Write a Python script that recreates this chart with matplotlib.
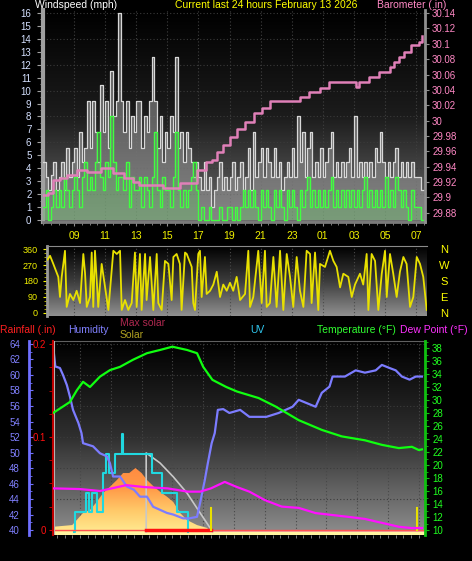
import numpy as np
import matplotlib
matplotlib.use("Agg")
import matplotlib.pyplot as plt
from matplotlib.colors import LinearSegmentedColormap
from matplotlib.ticker import MultipleLocator

plt.rcParams['font.family'] = ['Liberation Sans', 'DejaVu Sans']

W, H = 472, 561

# ---------------- data ----------------
hour_ticks = [9, 11, 13, 15, 17, 19, 21, 23, 25, 27, 29, 31]
hour_labels = ['09', '11', '13', '15', '17', '19', '21', '23', '01', '03', '05', '07']

# wind, 10-minute samples starting 07:00
wind_start_hour = 7.0
wind_step_hours = 1 / 6
wind_gust_mph = [
    4.5, 3.3, 2.3, 3.5, 4.5, 2.3,   # 07
    3.3, 4.5, 2.3, 5.6, 3.3, 4.5,   # 08
    5.6, 3.3, 6.8, 4.5, 5.6, 9.2,   # 09
    5.6, 9.2, 6.8, 4.5, 10.4, 6.8,  # 10
    9.2, 5.6, 11.5, 8.0, 9.2, 16.0, # 11
    9.2, 6.8, 9.2, 5.6, 8.0, 6.8,   # 12
    9.2, 9.2, 5.6, 8.0, 6.8, 9.2,   # 13
    12.6, 9.2, 5.6, 8.0, 4.5, 6.8,  # 14
    5.6, 8.0, 6.8, 12.6, 5.6, 6.8,  # 15
    4.5, 6.8, 5.6, 4.5, 3.3, 4.5,   # 16
    3.3, 2.3, 4.5, 2.3, 3.3, 1.0,   # 17
    2.3, 3.3, 4.5, 2.3, 3.3, 2.3,   # 18
    3.3, 4.5, 2.3, 3.3, 4.5, 2.3,   # 19
    3.3, 5.6, 2.3, 6.8, 3.3, 4.5,   # 20
    5.6, 3.3, 5.6, 4.5, 3.3, 5.6,   # 21
    3.3, 4.5, 2.3, 3.3, 4.5, 3.3,   # 22
    5.6, 3.3, 8.0, 4.5, 6.8, 3.3,   # 23
    5.6, 6.8, 3.3, 4.5, 3.3, 5.6,   # 00
    3.3, 4.5, 5.6, 6.8, 3.3, 4.5,   # 01
    3.3, 4.5, 3.3, 4.5, 5.6, 3.3,   # 02
    8.0, 3.3, 4.5, 3.3, 4.5, 3.3,   # 03
    4.5, 3.3, 5.6, 4.5, 6.8, 4.5,   # 04
    3.3, 4.5, 3.3, 4.5, 5.6, 3.3,   # 05
    4.5, 3.3, 4.5, 3.3, 4.5, 3.3,   # 06
    3.3, 3.3, 2.3,                  # 07
]
wind_speed_mph = [
    1.0, 2.3, 0.0, 1.0, 2.3, 1.0,   # 07
    2.3, 1.0, 3.3, 2.3, 1.0, 2.3,   # 08
    3.3, 2.3, 1.0, 3.3, 4.5, 2.3,   # 09
    3.3, 2.3, 4.5, 6.8, 3.3, 2.3,   # 10
    4.5, 3.3, 8.0, 4.5, 2.3, 3.3,   # 11
    3.3, 2.3, 4.5, 1.0, 3.3, 2.3,   # 12
    2.3, 3.3, 1.0, 3.3, 2.3, 1.0,   # 13
    3.3, 6.8, 2.3, 1.0, 3.3, 2.3,   # 14
    2.3, 1.0, 3.3, 6.8, 2.3, 1.0,   # 15
    2.3, 1.0, 2.3, 3.3, 4.5, 2.3,   # 16
    0.0, 1.0, 0.0, 0.0, 1.0, 0.0,   # 17
    0.0, 0.0, 1.0, 0.0, 0.0, 1.0,   # 18
    1.0, 0.0, 1.0, 0.0, 1.0, 2.3,   # 19
    1.0, 2.3, 1.0, 2.3, 1.0, 0.0,   # 20
    2.3, 1.0, 2.3, 1.0, 0.0, 2.3,   # 21
    1.0, 2.3, 1.0, 0.0, 2.3, 1.0,   # 22
    2.3, 1.0, 0.0, 2.3, 1.0, 2.3,   # 23
    3.3, 1.0, 2.3, 1.0, 2.3, 1.0,   # 00
    2.3, 1.0, 2.3, 3.3, 1.0, 2.3,   # 01
    1.0, 2.3, 1.0, 2.3, 1.0, 2.3,   # 02
    1.0, 2.3, 1.0, 2.3, 3.3, 1.0,   # 03
    2.3, 1.0, 2.3, 1.0, 2.3, 1.0,   # 04
    3.3, 1.0, 2.3, 1.0, 3.3, 2.3,   # 05
    1.0, 2.3, 1.0, 0.0, 2.3, 1.0,   # 06
    1.0, 1.0, 0.0,                  # 07
]

baro_hours = [7.0, 7.3, 7.65, 8.1, 8.55, 9.2, 9.8, 10.7, 11.5, 12.2, 12.8, 13.2, 14.7,
              15.8, 16.9, 17.5, 17.9, 18.2, 18.6, 19.0, 19.5, 20.0, 20.6, 21.1, 21.6,
              23.5, 24.1, 24.8, 25.4, 27.1, 27.3, 28.0, 28.6, 29.3, 29.6, 29.9, 30.2,
              30.7, 31.2, 31.35]
baro_inhg = [29.903, 29.906, 29.923, 29.925, 29.929, 29.936, 29.933, 29.938, 29.932,
             29.925, 29.920, 29.916, 29.912, 29.919, 29.936, 29.946, 29.949, 29.959,
             29.968, 29.979, 29.989, 29.998, 30.010, 30.016, 30.025, 30.031, 30.037,
             30.042, 30.050, 30.044, 30.050, 30.057, 30.063, 30.070, 30.076, 30.083,
             30.089, 30.098, 30.102, 30.110]

wdir_hours = [7.3, 7.46, 7.67, 7.99, 8.1, 8.21, 8.42, 8.53, 8.74, 8.96, 9.17, 9.39, 9.6,
              9.71, 9.82, 10.03, 10.14, 10.24, 10.35, 10.56, 10.78, 10.99, 11.21, 11.53,
              11.75, 11.96, 12.07, 12.28, 12.49, 12.71, 12.92, 13.03, 13.24, 13.35, 13.57,
              13.67, 13.89, 14.1, 14.32, 14.42, 14.64, 14.85, 15.07, 15.28, 15.39, 15.6,
              15.81, 15.92, 16.14, 16.25, 16.57, 16.67, 16.78, 16.99, 17.1, 17.21, 17.42,
              17.53, 17.75, 17.96, 18.18, 18.39, 18.6, 18.82, 19.03, 19.24, 19.46, 19.68,
              20.0, 20.21, 20.32, 20.53, 20.85, 21.07, 21.28, 21.39, 21.6, 21.82, 22.03,
              22.25, 22.46, 22.68, 22.89, 23.1, 23.32, 23.53, 23.75, 23.96, 24.18, 24.28,
              24.5, 24.71, 24.82, 25.14, 25.46, 25.68, 25.89, 26.11, 26.32, 26.64, 26.86,
              27.07, 27.39, 27.6, 27.82, 27.93, 28.14, 28.36, 28.57, 28.79, 29.0, 29.11,
              29.32, 29.53, 29.75, 29.96, 30.18, 30.39, 30.61, 30.82, 31.04, 31.25, 31.46,
              31.68]
wdir_deg = [300, 322, 276, 203, 90, 203, 350, 34, 107, 73, 125, 56, 332,
            225, 34, 90, 340, 34, 350, 34, 276, 150, 17, 350,
            332, 350, 17, 73, 17, 56, 340, 34, 332, 17, 332,
            73, 315, 17, 332, 56, 17, 293, 276, 73, 315, 332,
            276, 17, 340, 332, 259, 56, 17, 332, 350, 90, 315,
            107, 125, 160, 232, 90, 160, 125, 170, 125, 203, 73,
            107, 350, 34, 90, 350, 56, 350, 34, 56, 315, 34,
            350, 17, 332, 203, 34, 315, 125, 34, 350, 332, 56,
            340, 17, 276, 259, 350, 293, 259, 144, 221, 203, 90,
            160, 221, 160, 332, 17, 332, 293, 17, 221, 350, 90,
            332, 221, 90, 232, 315, 276, 34, 90, 315, 276, 203,
            17]

hum_hours = [7.25, 7.4, 7.7, 7.9, 8.15, 8.35, 8.55, 8.9, 9.1, 9.2, 9.85, 10.3, 10.75,
             10.95, 11.15, 11.6, 12.05, 12.5, 12.9, 13.35, 13.75, 14.2, 14.65, 15.05,
             15.7, 16.1, 16.6, 16.8, 17.1, 17.3, 17.55, 17.75, 17.95, 18.3, 18.7, 19.4,
             20.0, 21.1, 21.9, 22.8, 23.2, 24.3, 24.7, 25.2, 25.4, 26.2, 26.9, 27.5,
             28.2, 28.6, 29.1, 29.5, 29.9, 30.4, 30.8, 31.2]
hum_pct = [63.9, 61.1, 60.9, 60.0, 58.7, 57.2, 55.5, 53.8, 52.5, 51.2, 50.8, 49.9, 49.5,
           48.6, 46.9, 46.9, 45.6, 45.2, 44.3, 44.3, 43.0, 42.6, 42.2, 42.0,
           41.5, 41.5, 41.7, 43.5, 46.4, 48.6, 51.2, 52.5, 55.5, 55.6, 55.1, 55.5,
           54.6, 54.6, 55.1, 55.9, 56.8, 55.9, 57.7, 58.5, 59.8, 59.8, 60.6, 60.3,
           60.6, 61.3, 60.9, 60.6, 59.8, 59.4, 59.8, 59.8]

temp_hours = [7.25, 7.9, 8.35, 8.8, 9.2, 9.65, 10.3, 10.95, 11.6, 12.45, 13.35, 14.2,
              15.0, 15.95, 16.6, 17.0, 17.6, 18.5, 19.2, 20.6, 21.7, 23.2, 24.7, 26.0,
              27.5, 28.6, 29.7, 30.55, 31.0, 31.2]
temp_f = [28.0, 29.0, 29.7, 31.5, 32.8, 32.0, 33.6, 34.6, 35.1, 36.2, 37.2, 37.7,
          38.2, 37.7, 37.2, 35.1, 33.1, 32.0, 31.3, 30.3, 29.0, 26.9, 25.4, 24.4,
          23.8, 23.1, 22.6, 22.8, 22.3, 22.4]

dew_hours = [7.3, 9.0, 10.3, 12.0, 13.2, 14.7, 16.0, 16.8, 17.5, 18.4, 18.9, 19.2, 20.0,
             21.0, 22.1, 23.2, 24.3, 25.4, 26.5, 27.5, 28.6, 29.7, 30.5, 31.2]
dew_f = [16.4, 16.3, 16.0, 16.9, 16.6, 16.4, 15.9, 15.9, 16.4, 17.4, 16.9, 16.6, 15.9,
         14.6, 13.6, 13.4, 12.6, 12.3, 12.0, 11.7, 11.1, 10.5, 10.3, 10.3]

solar_hours = [7.25, 8.5, 9.2, 9.65, 10.1, 10.5, 10.95, 11.4, 11.8, 12.2, 12.6, 13.0,
               13.35, 13.8, 14.2, 14.65, 15.05, 15.5, 15.95, 16.6, 17.25, 17.5]
solar_wm2 = [27, 36, 99, 114, 157, 202, 235, 270, 306, 306, 332, 306,
             270, 235, 209, 183, 157, 99, 62, 36, 21, 0]

maxsolar_hours = [13.3, 13.3, 14.2, 15.05, 15.95, 16.8, 17.45, 17.6]
maxsolar_wm2 = [0, 410, 358, 287, 202, 99, 21, 0]

uv_hours = [8.6, 8.7, 9.4, 9.6, 9.8, 10.1, 10.5, 10.7, 10.9, 11.3, 11.7, 11.8, 13.7,
            14.3, 15.3, 16.0]
uv_index = [0, 1, 2, 1, 2, 1, 3, 4, 3, 4, 5, 4, 3, 2, 1, 0]

rain_hours = [7.25, 31.4]
rain_in = [0.0, 0.0]
rain_highlight_hours = [13.3, 17.5]
marker_hours = [17.5, 30.9]

# ---------------- helpers ----------------
def rect(x0, y0, x1, y1):
    return [x0 / W, 1 - y1 / H, (x1 - x0) / W, (y1 - y0) / H]


def gradient_bg(ax, colors):
    cmap = LinearSegmentedColormap.from_list('bg', colors)
    g = np.linspace(0, 1, 256).reshape(-1, 1)
    ax.imshow(g, cmap=cmap, aspect='auto', extent=[0, 1, 0, 1],
              transform=ax.transAxes, origin='upper', zorder=0,
              interpolation='bilinear')


def px_pt(p):
    return p * 72 / 100


YELLOW = '#f2f200'
fig = plt.figure(figsize=(W / 100, H / 100), dpi=100, facecolor='black')

# ---------------- panel 1: wind + barometer ----------------
ax1 = fig.add_axes(rect(43, 10, 425, 222))
gradient_bg(ax1, ['#000000', '#1c1c1c', '#6c6c6c'])
for h in hour_ticks:
    ax1.axvline(h, color='#404040', lw=0.8, ls=(0, (1, 2)), zorder=1)
for v in range(2, 17, 2):
    ax1.axhline(v, color='#3a3a3a', lw=0.8, ls=(0, (1, 2)), zorder=1)

wind_x = wind_start_hour + np.arange(len(wind_gust_mph)) * wind_step_hours
x_ext = np.append(wind_x, wind_x[-1] + wind_step_hours)
g_ext = np.append(wind_gust_mph, wind_gust_mph[-1])
s_ext = np.append(wind_speed_mph, wind_speed_mph[-1])
ax1.fill_between(x_ext, 0, g_ext, step='post', color='#9a9a9a', alpha=0.55, lw=0, zorder=2)
ax1.step(x_ext, g_ext, where='post', color='#d8d8d8', lw=0.9, zorder=3)
ax1.fill_between(x_ext, 0, s_ext, step='post', color='#60d060', alpha=0.3, lw=0, zorder=4)
ax1.step(x_ext, s_ext, where='post', color='#40ff40', lw=1.0, zorder=5)

ax1.set_xlim(7.0, 31.57)
ax1.set_ylim(-0.155, 16.23)
ax1.set_yticks(range(0, 17))
ax1.tick_params(axis='y', colors='#a0a0a0', labelcolor='#d4e0ff', labelsize=7,
                length=4, pad=px_pt(6))
ax1.yaxis.set_minor_locator(MultipleLocator(0.5))
ax1.tick_params(axis='y', which='minor', colors='#a0a0a0', length=2)
ax1.set_xticks(hour_ticks)
ax1.set_xticklabels(hour_labels)
ax1.tick_params(axis='x', colors='#909090', labelcolor=YELLOW, labelsize=7.5,
                length=3, pad=px_pt(5))
ax1.xaxis.set_minor_locator(MultipleLocator(0.5))
ax1.tick_params(axis='x', which='minor', colors='#909090', length=2)
for s in ['top', 'right']:
    ax1.spines[s].set_visible(False)
ax1.spines['left'].set_color('#a0a0a0')
ax1.spines['left'].set_linewidth(3)
ax1.spines['bottom'].set_color('#7a7a7a')
ax1.spines['bottom'].set_linewidth(2)

ax1b = ax1.twinx()
ax1b.step(baro_hours, baro_inhg, where='post', color='#e080b8', lw=1.8, zorder=6)
ax1b.set_ylim(29.868, 30.144)
baro_ticks = np.round(np.arange(29.88, 30.141, 0.02), 2)
ax1b.set_yticks(baro_ticks)
ax1b.set_yticklabels(['{:g}'.format(v) for v in baro_ticks])
ax1b.tick_params(axis='y', colors='#909090', labelcolor='#ff88c4', labelsize=7,
                 length=3, pad=px_pt(3))
for s in ['top', 'left', 'bottom']:
    ax1b.spines[s].set_visible(False)
ax1b.spines['right'].set_color('#909090')
ax1b.spines['right'].set_linewidth(2)
ax1b.set_xlim(7.0, 31.57)

fig.text(35 / W, 1 - 5 / H, 'Windspeed (mph)', color='white', fontsize=7.5, va='center')
fig.text(175 / W, 1 - 5 / H, 'Current last 24 hours February 13 2026', color='#ffff00',
         fontsize=7.5, va='center')
fig.text(377 / W, 1 - 5 / H, 'Barometer (.in)', color='#ff88c4', fontsize=7.5, va='center')

# ---------------- panel 2: wind direction ----------------
ax2 = fig.add_axes(rect(47, 246, 427, 316))
gradient_bg(ax2, ['#000000', '#3c3c3c', '#909090'])
for h in hour_ticks:
    ax2.axvline(h, color='#4a4a4a', lw=0.8, ls=(0, (1, 2)), zorder=1)
ax2.plot(wdir_hours, wdir_deg, color='#e8e000', lw=1.3, zorder=3)
ax2.set_xlim(7.264, 31.70)
ax2.set_ylim(-16.9, 376.9)
ax2.set_yticks([0, 90, 180, 270, 360])
ax2.yaxis.set_minor_locator(MultipleLocator(22.5))
ax2.tick_params(axis='y', colors=YELLOW, labelcolor=YELLOW, labelsize=6.5, length=3,
                pad=px_pt(5))
ax2.tick_params(axis='y', which='minor', colors='#c8c800', length=2)
ax2.set_xticks([])
for s in ['right', 'bottom']:
    ax2.spines[s].set_visible(False)
ax2.spines['top'].set_color('#8a8a8a')
ax2.spines['left'].set_color('#9a9a9a')
ax2.spines['left'].set_linewidth(2)
for lab, py in zip(['N', 'W', 'S', 'E', 'N'], [250, 266, 282, 298, 314]):
    fig.text(444 / W, 1 - py / H, lab, color='#ffff00', fontsize=8, ha='center', va='center')

# ---------------- panel 3: temperature / humidity / solar ----------------
ax3 = fig.add_axes(rect(53, 341, 425, 535))
gradient_bg(ax3, ['#000000', '#303030', '#8e8e8e'])
for h in hour_ticks:
    ax3.axvline(h, color='#484848', lw=0.8, ls=(0, (1, 2)), zorder=1)
ax3.set_xlim(7.25, 31.40)
ax3.set_ylim(39.355, 64.387)
for v in range(44, 65, 4):
    ax3.axhline(v, color='#3c3c3c', lw=0.8, ls=(0, (1, 2)), zorder=1)
# bottom band
ax3.axhspan(39.355, 39.355 + 2.5 / 7.75, color='#fff4a0', zorder=2, lw=0)
ax3.axhspan(39.355 + 2.5 / 7.75, 40.0, color='#f0a8a0', zorder=2, lw=0)
ax3.set_yticks(range(40, 65, 2))
ax3.yaxis.set_minor_locator(MultipleLocator(1))
ax3.tick_params(axis='y', direction='in', colors='#7070ff', labelcolor='#8080ff',
                labelsize=7, length=3, pad=px_pt(9))
ax3.tick_params(axis='y', which='minor', direction='in', colors='#7070ff', length=2)
ax3.spines['left'].set_position(('outward', px_pt(24)))
ax3.spines['left'].set_color('#7070ff')
ax3.spines['left'].set_linewidth(2)
for s in ['right', 'bottom']:
    ax3.spines[s].set_visible(False)
ax3.spines['top'].set_color('#606060')
ax3.set_xticks(hour_ticks)
ax3.set_xticklabels(hour_labels)
ax3.xaxis.set_minor_locator(MultipleLocator(0.5))
ax3.tick_params(axis='x', colors='#909090', labelcolor=YELLOW, labelsize=7.5,
                length=3, pad=px_pt(6))
ax3.tick_params(axis='x', which='minor', colors='#909090', length=2)

# solar
ax_sol = ax3.twinx()
ax_sol.set_axis_off()
poly = ax_sol.fill_between(solar_hours, 0, solar_wm2, color='none', lw=0)
scmap = LinearSegmentedColormap.from_list('sol', ['#ffea90', '#ffc868', '#ff9a48', '#ff8a40'])
im = ax_sol.imshow(np.linspace(0, 1, 128).reshape(-1, 1), cmap=scmap, aspect='auto',
                   extent=[7.25, 17.6, 0, 340], origin='lower', zorder=2)
im.set_clip_path(poly.get_paths()[0], transform=ax_sol.transData)
ax_sol.plot(maxsolar_hours, maxsolar_wm2, color='#c8c8c8', lw=1.2, zorder=3)
ax_sol.set_xlim(7.25, 31.40)
ax_sol.set_ylim(-15.6, 991)

# UV
ax_uv = ax3.twinx()
ax_uv.set_axis_off()
ax_uv.step(uv_hours, uv_index, where='post', color='#20d8e0', lw=1.5)
ax_uv.set_xlim(7.25, 31.40)
ax_uv.set_ylim(-0.154, 9.795)

# humidity data
ax_h = ax3.twinx()
ax_h.set_axis_off()
ax_h.plot(hum_hours, hum_pct, color='#7c7cff', lw=1.6)
ax_h.set_xlim(7.25, 31.40)
ax_h.set_ylim(39.355, 64.387)

# rain axis (left, at plot edge)
ax_r = ax3.twinx()
ax_r.yaxis.tick_left()
ax_r.plot(rain_hours, rain_in, color='#ff5050', lw=1.0)
ax_r.plot(rain_highlight_hours, [0, 0], color='#ff1010', lw=2.5)
for mh in marker_hours:
    ax_r.plot([mh, mh], [0, 0.024], color='#e8e000', lw=1.5)
ax_r.axvline(7.3, color='#b8b8b8', lw=1.5)
ax_r.set_xlim(7.25, 31.40)
ax_r.set_ylim(-0.00538, 0.20323)
ax_r.set_yticks([0, 0.1, 0.2])
ax_r.set_yticklabels(['0', '0.1', '0.2'])
ax_r.yaxis.set_minor_locator(MultipleLocator(0.025))
ax_r.tick_params(axis='y', colors='#d00000', labelcolor='#ff1010', labelsize=7,
                 length=3, pad=px_pt(3))
ax_r.tick_params(axis='y', which='minor', colors='#d00000', length=3)
for s in ['right', 'top', 'bottom']:
    ax_r.spines[s].set_visible(False)
ax_r.spines['left'].set_color('#c00000')
ax_r.spines['left'].set_linewidth(1.5)
ax_r.set_xticks([])

# temperature axis (right)
ax_t = ax3.twinx()
ax_t.plot(dew_hours, dew_f, color='#ff10ff', lw=1.6)
ax_t.plot(temp_hours, temp_f, color='#10ff10', lw=1.6)
ax_t.set_xlim(7.25, 31.40)
ax_t.set_ylim(9.231, 39.077)
ax_t.set_yticks(range(10, 39, 2))
ax_t.yaxis.set_minor_locator(MultipleLocator(1))
ax_t.tick_params(axis='y', colors='#10c010', labelcolor='#20ff20', labelsize=7,
                 length=3, pad=px_pt(3))
ax_t.tick_params(axis='y', which='minor', colors='#10c010', length=2)
for s in ['left', 'top', 'bottom']:
    ax_t.spines[s].set_visible(False)
ax_t.spines['right'].set_color('#10c010')
ax_t.spines['right'].set_linewidth(2)
ax_t.set_xticks([])

# panel 3 header
fig.text(0 / W, 1 - 330 / H, 'Rainfall (.in)', color='#ff2020', fontsize=7.5, va='center')
fig.text(68 / W, 1 - 330 / H, 'Humidity', color='#8080ff', fontsize=7.5, va='center')
fig.text(120 / W, 1 - 323 / H, 'Max solar', color='#b02850', fontsize=7.5, va='center')
fig.text(120 / W, 1 - 335 / H, 'Solar', color='#b0a020', fontsize=7.5, va='center')
fig.text(250 / W, 1 - 330 / H, 'UV', color='#30c8f0', fontsize=7.5, va='center')
fig.text(317 / W, 1 - 330 / H, 'Temperature (°F)', color='#30ff30', fontsize=7.5, va='center')
fig.text(400 / W, 1 - 330 / H, 'Dew Point (°F)', color='#ff30ff', fontsize=7.5, va='center')

fig.savefig('out.png', dpi=100, facecolor='black')
